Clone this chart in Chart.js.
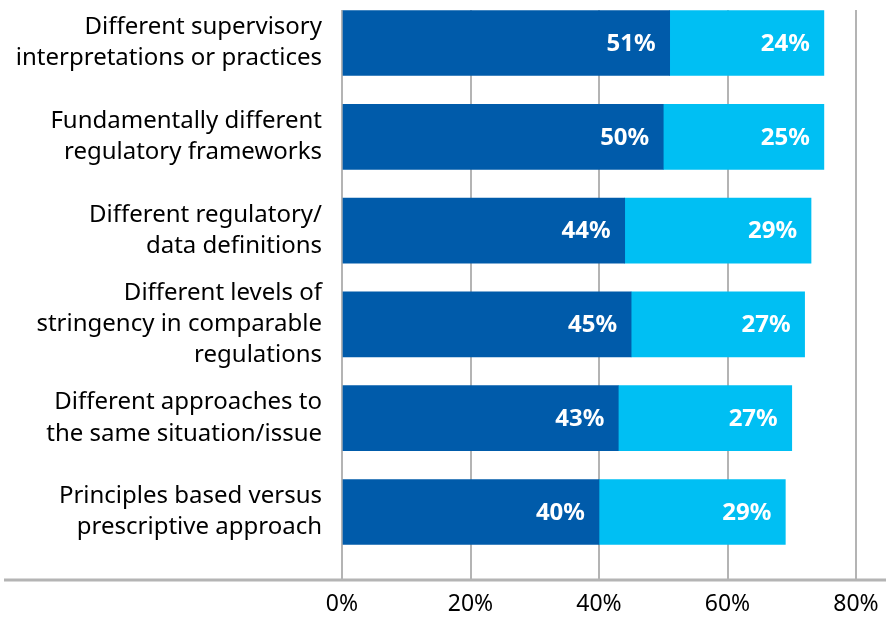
<!DOCTYPE html>
<html>
<head>
<meta charset="utf-8">
<script src="https://cdn.jsdelivr.net/npm/chart.js@4/dist/chart.umd.min.js"></script>
<style>
  html, body { margin: 0; padding: 0; background: #fff; }
  #wrap { width: 886px; height: 617px; position: relative; }
</style>
</head>
<body>
<div id="wrap"><canvas id="barChart"></canvas></div>
<script>
const categories = [
    ['Different supervisory', 'interpretations or practices'],
    ['Fundamentally different', 'regulatory frameworks'],
    ['Different regulatory/', 'data definitions'],
    ['Different levels of', 'stringency in comparable', 'regulations'],
    ['Different approaches to', 'the same situation/issue'],
    ['Principles based versus', 'prescriptive approach']
];
const darkValues = [51, 50, 44, 45, 43, 40];
const lightValues = [24, 25, 29, 27, 27, 29];
const xTicks = [0, 20, 40, 60, 80];

const FONT = '"Noto Sans", "Open Sans", sans-serif';

// white value labels drawn at the right end of each segment
const valueLabels = {
    id: 'valueLabels',
    afterDatasetsDraw(chart) {
        const ctx = chart.ctx;
        ctx.save();
        ctx.fillStyle = '#ffffff';
        ctx.font = 'bold 24px ' + FONT;
        ctx.textAlign = 'right';
        ctx.textBaseline = 'middle';
        chart.data.datasets.forEach((ds, di) => {
            chart.getDatasetMeta(di).data.forEach((bar, i) => {
                ctx.fillText(ds.data[i].x[1] - ds.data[i].x[0] + '%', bar.x - 14, bar.y + 1);
            });
        });
        ctx.restore();
    }
};

// long baseline under the plot
const baseLine = {
    id: 'baseLine',
    afterDraw(chart) {
        const ctx = chart.ctx;
        const y = chart.chartArea.bottom;
        ctx.save();
        ctx.strokeStyle = '#b4b4b4';
        ctx.lineWidth = 3;
        ctx.beginPath();
        ctx.moveTo(4, y);
        ctx.lineTo(chart.width, y);
        ctx.stroke();
        ctx.restore();
    }
};

const ctx = document.getElementById('barChart').getContext('2d');
new Chart(ctx, {
    type: 'bar',
    data: {
        datasets: [
            {
                label: 'Dark',
                data: darkValues.map((v, i) => ({ y: i, x: [0, v] })),
                backgroundColor: '#005BAA',
                barThickness: 65,
                grouped: false,
                borderSkipped: false
            },
            {
                label: 'Light',
                data: lightValues.map((v, i) => ({ y: i, x: [darkValues[i], darkValues[i] + v] })),
                backgroundColor: '#00BFF3',
                barThickness: 65,
                grouped: false,
                borderSkipped: false
            }
        ]
    },
    options: {
        indexAxis: 'y',
        responsive: true,
        maintainAspectRatio: false,
        animation: false,
        layout: { padding: { top: 10, right: 30, left: 0, bottom: 0 } },
        plugins: {
            legend: { display: false },
            tooltip: { enabled: false }
        },
        scales: {
            x: {
                type: 'linear',
                min: 0,
                max: 80,
                afterBuildTicks: (axis) => { axis.ticks = xTicks.map(v => ({ value: v })); },
                grid: { color: '#b4b4b4', lineWidth: 2, drawTicks: false },
                border: { display: false },
                ticks: {
                    callback: (v) => v + '%',
                    color: '#000',
                    font: { family: FONT, size: 23 },
                    padding: 11,
                    maxRotation: 0
                },
                afterFit: (axis) => {
                    axis.height = 37;
                    axis.paddingLeft = 0;
                    axis.paddingRight = 0;
                }
            },
            y: {
                type: 'linear',
                reverse: true,
                offset: false,
                min: -0.352,
                max: 5.725,
                afterBuildTicks: (axis) => { axis.ticks = categories.map((c, i) => ({ value: i })); },
                grid: { display: false, offset: false },
                border: { display: false },
                ticks: {
                    callback: (v) => categories[v],
                    color: '#000',
                    font: { family: FONT, size: 24, lineHeight: 1.3 },
                    padding: 12,
                    autoSkip: false
                },
                afterFit: (axis) => {
                    axis.width = 342;
                    axis.paddingTop = 0;
                    axis.paddingBottom = 0;
                }
            }
        }
    },
    plugins: [valueLabels, baseLine]
});
</script>
</body>
</html>
